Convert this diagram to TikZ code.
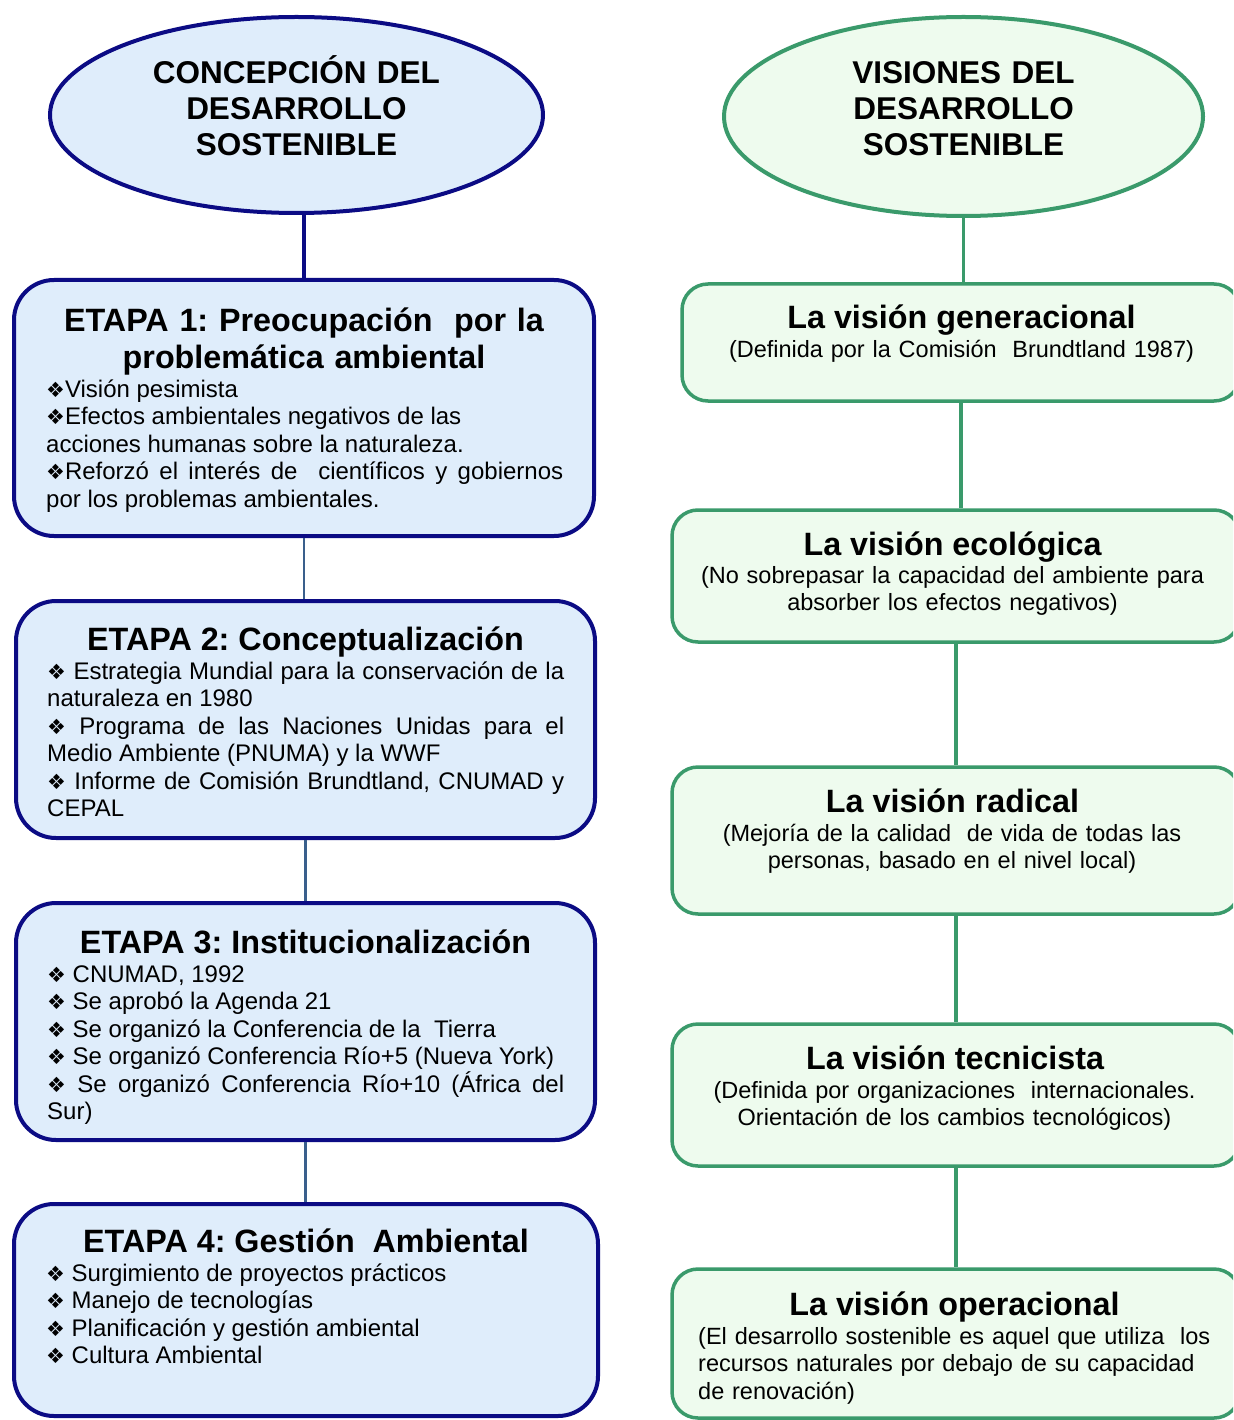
\documentclass[tikz,border=0pt]{standalone}
\usepackage{fontspec}
\setmainfont{Liberation Sans}
\newfontfamily\dejavu{DejaVu Sans}
\usetikzlibrary{shapes.geometric}
\frenchspacing

\definecolor{azul}{HTML}{0B0B84}
\definecolor{azulclaro}{HTML}{DFEDFB}
\definecolor{lineaazul}{HTML}{3A5F8C}
\definecolor{verde}{HTML}{3A9A6B}
\definecolor{verdeclaro}{HTML}{EEFBEE}

\newcommand\rombo{{\dejavu\fontsize{21}{21}\selectfont ❖}}

\tikzset{
  etapa/.style={draw=azul, fill=azulclaro, line width=4pt, rounded corners=40pt, rectangle, inner sep=0pt},
  vision/.style={draw=verde, fill=verdeclaro, line width=3.5pt, rounded corners=26pt, rectangle, inner sep=0pt},
  titulo/.style={font=\bfseries\fontsize{32.3}{37}\selectfont, inner sep=0pt, anchor=base},
  cuerpo/.style={font=\fontsize{24}{27.5}\selectfont, inner sep=0pt, anchor=base west, text width=517pt, align=justify},
  nota/.style={font=\fontsize{23.5}{27.5}\selectfont, inner sep=0pt, anchor=base, text width=540pt, align=center},
  cabeza/.style={font=\bfseries\fontsize{31.5}{36}\selectfont, inner sep=0pt, anchor=base, text width=460pt, align=center}
}

\begin{document}
\begin{tikzpicture}[x=1pt, y=-1pt]
\clip (0,0) rectangle (1233,1420);
\fill[white] (0,0) rectangle (1233,1420);

% columna izquierda
\node (c)[ellipse, draw=azul, fill=azulclaro, line width=4pt, inner sep=0pt, minimum width=493pt, minimum height=196pt] at (296.5,115) {};
\node (ct)[cabeza] at (296.5,84) {CONCEPCIÓN DEL\\DESARROLLO\\SOSTENIBLE};
\node (e1)[etapa, minimum width=580pt, minimum height=256pt] at (304,408) {};
\node (e2)[etapa, minimum width=579pt, minimum height=237pt] at (305.5,719.5) {};
\node (e3)[etapa, minimum width=579pt, minimum height=237pt] at (305.5,1021.5) {};
\node (e4)[etapa, minimum width=584pt, minimum height=212pt] at (306,1310) {};

\node (t1)[titulo, text width=580pt, align=center] at (304,331) {ETAPA 1: Preocupación~ por la\\problemática ambiental};
\node (b1)[cuerpo] at (46,397) {\rombo Visión pesimista\\
\rombo Efectos ambientales negativos de las\\
acciones humanas sobre la naturaleza.\\
\rombo Reforzó el interés de~ científicos y gobiernos\linebreak
por los problemas ambientales.};

\node (t2)[titulo] at (305.5,650) {ETAPA 2: Conceptualización};
\node (b2)[cuerpo] at (47,679) {\rombo{} Estrategia Mundial para la conservación de la\linebreak
naturaleza en 1980\\
\rombo{} Programa de las Naciones Unidas para el\linebreak
Medio Ambiente (PNUMA) y la WWF\\
\rombo{} Informe de Comisión Brundtland, CNUMAD y\linebreak
CEPAL};

\node (t3)[titulo] at (305.5,953) {ETAPA 3: Institucionalización};
\node (b3)[cuerpo] at (47,982) {\rombo{} CNUMAD, 1992\\
\rombo{} Se aprobó la Agenda 21\\
\rombo{} Se organizó la Conferencia de la~ Tierra\\
\rombo{} Se organizó Conferencia Río+5 (Nueva York)\\
\rombo{} Se organizó Conferencia Río+10 (África del\linebreak
Sur)};

\node (t4)[titulo] at (306,1252) {ETAPA 4: Gestión~ Ambiental};
\node (b4)[cuerpo] at (46,1281) {\rombo{} Surgimiento de proyectos prácticos\\
\rombo{} Manejo de tecnologías\\
\rombo{} Planificación y gestión ambiental\\
\rombo{} Cultura Ambiental};

\draw[azul, line width=4pt] (e1.north) -- (e1.north |- c.south);
\draw[lineaazul, line width=2.5pt] (e1.south) -- (e1.south |- e2.north);
\draw[lineaazul, line width=2.5pt] (e2.south) -- (e2.south |- e3.north);
\draw[lineaazul, line width=2.5pt] (e3.south) -- (e3.south |- e4.north);

% columna derecha
\node (v)[ellipse, draw=verde, fill=verdeclaro, line width=4pt, inner sep=0pt, minimum width=479pt, minimum height=199pt] at (963.5,116.5) {};
\node (vt)[cabeza] at (963.5,84) {VISIONES DEL\\DESARROLLO\\SOSTENIBLE};
\node (g1)[vision, minimum width=558pt, minimum height=117pt] at (961,342.5) {};
\node (g2)[vision, minimum width=568pt, minimum height=132pt] at (956,576) {};
\node (g3)[vision, minimum width=568pt, minimum height=147pt] at (956,840.5) {};
\node (g4)[vision, minimum width=568pt, minimum height=142pt] at (956,1095) {};
\node (g5)[vision, minimum width=568pt, minimum height=149pt] at (956,1343.5) {};

\node (h1)[titulo] at (961.5,328) {La visión generacional};
\node (n1)[nota] at (961.5,357) {(Definida por la Comisión~ Brundtland 1987)};
\node (h2)[titulo] at (952.5,555) {La visión ecológica};
\node (n2)[nota] at (952.5,583) {(No sobrepasar la capacidad del ambiente para\\absorber los efectos negativos)};
\node (h3)[titulo] at (952.5,812) {La visión radical};
\node (n3)[nota] at (952,841) {(Mejoría de la calidad~ de vida de todas las\\personas, basado en el nivel local)};
\node (h4)[titulo] at (955,1069) {La visión tecnicista};
\node (n4)[nota] at (954.5,1098) {(Definida por organizaciones~ internacionales.\\Orientación de los cambios tecnológicos)};
\node (h5)[titulo] at (954.5,1315) {La visión operacional};
\node (n5)[nota, anchor=base west, text width=530pt, align=left] at (698,1344) {(El desarrollo sostenible es aquel que utiliza~ los\\recursos naturales por debajo de su capacidad\\de renovación)};

\draw[verde, line width=3.5pt] (v.south) -- (v.south |- g1.north);
\draw[verde, line width=3.5pt] (g1.south) -- (g1.south |- g2.north);
\draw[verde, line width=3.5pt] (g2.south) -- (g2.south |- g3.north);
\draw[verde, line width=3.5pt] (g3.south) -- (g3.south |- g4.north);
\draw[verde, line width=3.5pt] (g4.south) -- (g4.south |- g5.north);
\end{tikzpicture}
\end{document}
